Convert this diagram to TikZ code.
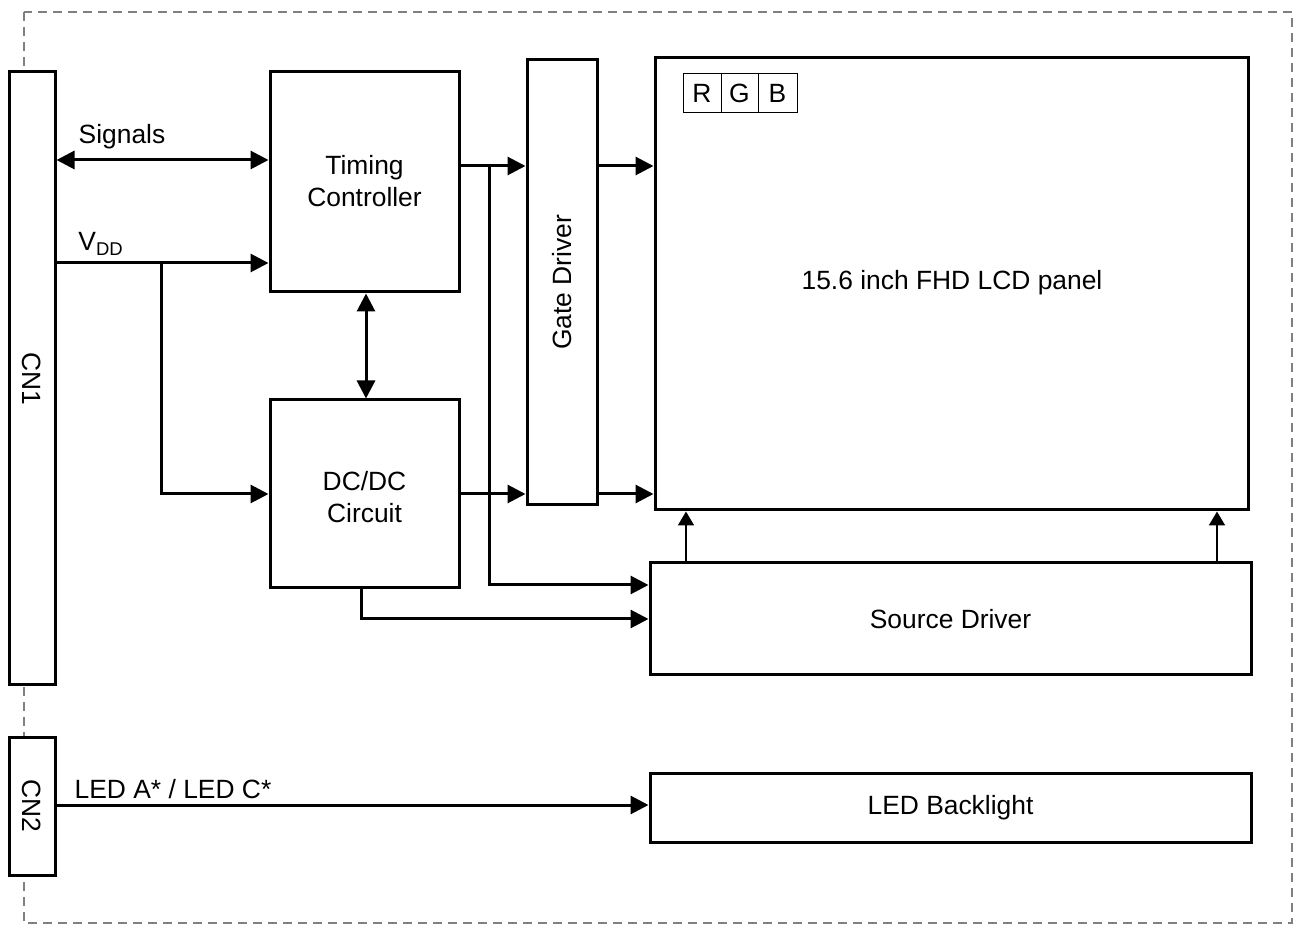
\documentclass[tikz,border=0pt]{standalone}
\usepackage{fontspec}
\setmainfont{Liberation Sans}
\usetikzlibrary{arrows.meta}
\begin{document}
\begin{tikzpicture}[x=0.5pt,y=-0.5pt,
  box/.style={draw,line width=1.5pt,fill=white,inner sep=0pt},
  txt/.style={inner sep=0pt,align=center,font=\fontsize{13.2}{16}\selectfont},
  cell/.style={draw,line width=0.5pt,inner sep=0pt,minimum height=19.5pt,font=\fontsize{13.2}{16}\selectfont},
  conn/.style={line width=1.5pt,-{Triangle[length=9pt,width=9pt]}},
  biconn/.style={line width=1.5pt,{Triangle[length=9pt,width=9pt]}-{Triangle[length=9pt,width=9pt]}},
  upconn/.style={line width=1pt,-{Triangle[length=7pt,width=8pt]}},
  frame/.style={draw=black!50,line width=0.75pt,dash pattern=on 4.5pt off 3pt}
]
\useasboundingbox (0,0) rectangle (1298,925);
\draw[frame] (24,12) rectangle (1292,923);

% helper coordinates
\coordinate (ySig) at (0,160);
\coordinate (yV) at (0,263);
\coordinate (yG1) at (0,166);
\coordinate (yDC) at (0,494);
\coordinate (ySD1) at (0,585);
\coordinate (ySD2) at (0,619);
\coordinate (yLED) at (0,805);
\coordinate (xTD) at (366,0);
\coordinate (xDB) at (361,0);
\coordinate (xS1) at (686,0);
\coordinate (xS2) at (1217,0);

% boxes
\node[box,minimum width=23pt,minimum height=306.5pt] (CN1) at (32,378.5) {};
\node[txt,rotate=-90] (CN1t) at (CN1) {CN1};
\node[box,minimum width=23pt,minimum height=69pt] (CN2) at (32,806) {};
\node[txt,rotate=-90] (CN2t) at (CN2) {CN2};
\node[box,minimum width=94.5pt,minimum height=110pt] (TC) at (364.5,182) {};
\node[txt] (TCt) at (364.5,181) {Timing\\Controller};
\node[box,minimum width=94.5pt,minimum height=94pt] (DC) at (364.5,494) {};
\node[txt] (DCt) at (364.5,497) {DC/DC\\Circuit};
\node[box,minimum width=35pt,minimum height=222.5pt] (GD) at (562,282.5) {};
\node[txt,rotate=90] (GDt) at (GD) {Gate Driver};
\node[box,minimum width=296.5pt,minimum height=226pt] (P) at (951.5,284) {};
\node[txt] (Pt) at (952,283) {15.6 inch FHD LCD panel};
\node[box,minimum width=300.5pt,minimum height=56pt] (SD) at (950.5,619) {};
\node[txt] (SDt) at (SD) {Source Driver};
\node[box,minimum width=300.5pt,minimum height=34.5pt] (LED) at (950.5,807.5) {};
\node[txt] (LEDt) at (LED) {LED Backlight};

% RGB
\node[cell,minimum width=19pt] (R) at (702,93.5) {R};
\node[cell,minimum width=18.5pt] (G) at (739.5,93.5) {G};
\node[cell,minimum width=19.5pt] (B) at (777.5,93.5) {B};

% labels
\node[txt] (lSig) at (122,137) {Signals};
\node[txt,anchor=west] (lV) at (78,244) {V\textsubscript{DD}};
\node[txt] (lLED) at (173,789) {LED A* / LED C*};

% connectors
\draw[biconn] (CN1.east |- ySig) -- (TC.west |- ySig);
\draw[conn] (CN1.east |- yV) -- (TC.west |- yV);
\coordinate (vb) at (161,263);
\draw[conn] (vb) |- (DC.west |- yDC);
\draw[biconn] (TC.south -| xTD) -- (DC.north -| xTD);
\draw[conn] (TC.east |- yG1) -- (GD.west |- yG1);
\coordinate (tb) at (489,166);
\draw[conn] (tb) |- (SD.west |- ySD1);
\draw[conn] (DC.east |- yDC) -- (GD.west |- yDC);
\draw[conn] (DC.south -| xDB) |- (SD.west |- ySD2);
\draw[conn] (GD.east |- yG1) -- (P.west |- yG1);
\draw[conn] (GD.east |- yDC) -- (P.west |- yDC);
\draw[upconn] (SD.north -| xS1) -- (P.south -| xS1);
\draw[upconn] (SD.north -| xS2) -- (P.south -| xS2);
\draw[conn] (CN2.east |- yLED) -- (LED.west |- yLED);
\end{tikzpicture}
\end{document}
